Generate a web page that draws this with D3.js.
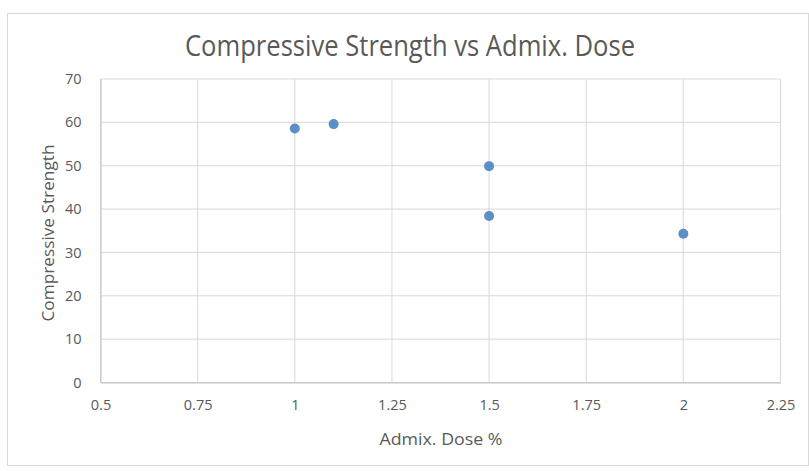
<!DOCTYPE html>
<html>
<head>
<meta charset="utf-8">
<script src="https://cdn.jsdelivr.net/npm/d3@7"></script>
<style>
  html, body { margin: 0; padding: 0; background: #fff; }
  svg { display: block; }
  text { font-family: "Open Sans", "Liberation Sans", sans-serif; fill: #595959; }
</style>
</head>
<body>
<svg id="chart" width="809" height="471"></svg>
<script>
// Admixture dose (%) and measured compressive strength
const doses = [1.0, 1.1, 1.5, 1.5, 2.0];
const strengths = [58.6, 59.6, 49.9, 38.4, 34.3];
const xTicks = [0.5, 0.75, 1, 1.25, 1.5, 1.75, 2, 2.25];
const yTicks = [0, 10, 20, 30, 40, 50, 60, 70];

const svg = d3.select("#chart");
const W = 809;
const plot = { left: 100.5, right: 780.5, top: 79, bottom: 382.5 };

// outer chart frame
svg.append("rect")
  .attr("x", 7.5).attr("y", 13.5)
  .attr("width", W - 8).attr("height", 452)
  .attr("fill", "#fff").attr("stroke", "#d9d9d9");

const x = d3.scaleLinear().domain([0.5, 2.25]).range([plot.left, plot.right]);
const y = d3.scaleLinear().domain([0, 70]).range([plot.bottom, plot.top]);

// gridlines
svg.append("g").selectAll("line").data(xTicks).join("line")
  .attr("x1", d => x(d)).attr("x2", d => x(d))
  .attr("y1", plot.top).attr("y2", plot.bottom)
  .attr("stroke", "#d9d9d9").attr("stroke-width", 1);
svg.append("g").selectAll("line").data(yTicks).join("line")
  .attr("x1", plot.left).attr("x2", plot.right)
  .attr("y1", d => y(d)).attr("y2", d => y(d))
  .attr("stroke", "#d9d9d9").attr("stroke-width", 1);

// axes (labels only; lines come from the grid)
const xAxis = svg.append("g")
  .attr("transform", `translate(0,${plot.bottom})`)
  .call(d3.axisBottom(x).tickValues(xTicks).tickSize(0).tickPadding(17)
    .tickFormat(d3.format("")));
xAxis.select(".domain").attr("stroke", "#bfbfbf");
xAxis.selectAll("text").style("font-size", "14.5px").attr("fill", "#595959")
  .style("font-family", "'Open Sans', sans-serif");

const yAxis = svg.append("g")
  .attr("transform", `translate(${plot.left},0)`)
  .call(d3.axisLeft(y).tickValues(yTicks).tickSize(0).tickPadding(19));
yAxis.select(".domain").attr("stroke", "#bfbfbf");
yAxis.selectAll("text").style("font-size", "14.5px").attr("fill", "#595959")
  .style("font-family", "'Open Sans', sans-serif");

// points
svg.append("g").selectAll("circle").data(doses).join("circle")
  .attr("cx", d => x(d))
  .attr("cy", (d, i) => y(strengths[i]))
  .attr("r", 5)
  .attr("fill", "#5b8fc7");

// title and axis titles
svg.append("text")
  .attr("x", 410).attr("y", 56)
  .attr("text-anchor", "middle")
  .attr("textLength", 450).attr("lengthAdjust", "spacingAndGlyphs")
  .style("font-size", "29px")
  .text("Compressive Strength vs Admix. Dose");

svg.append("text")
  .attr("x", 441).attr("y", 445)
  .attr("text-anchor", "middle")
  .attr("textLength", 123).attr("lengthAdjust", "spacingAndGlyphs")
  .style("font-size", "16px")
  .text("Admix. Dose %");

svg.append("text")
  .attr("transform", "translate(54,233) rotate(-90)")
  .attr("text-anchor", "middle")
  .attr("textLength", 177).attr("lengthAdjust", "spacingAndGlyphs")
  .style("font-size", "17px")
  .text("Compressive Strength");
</script>
</body>
</html>
